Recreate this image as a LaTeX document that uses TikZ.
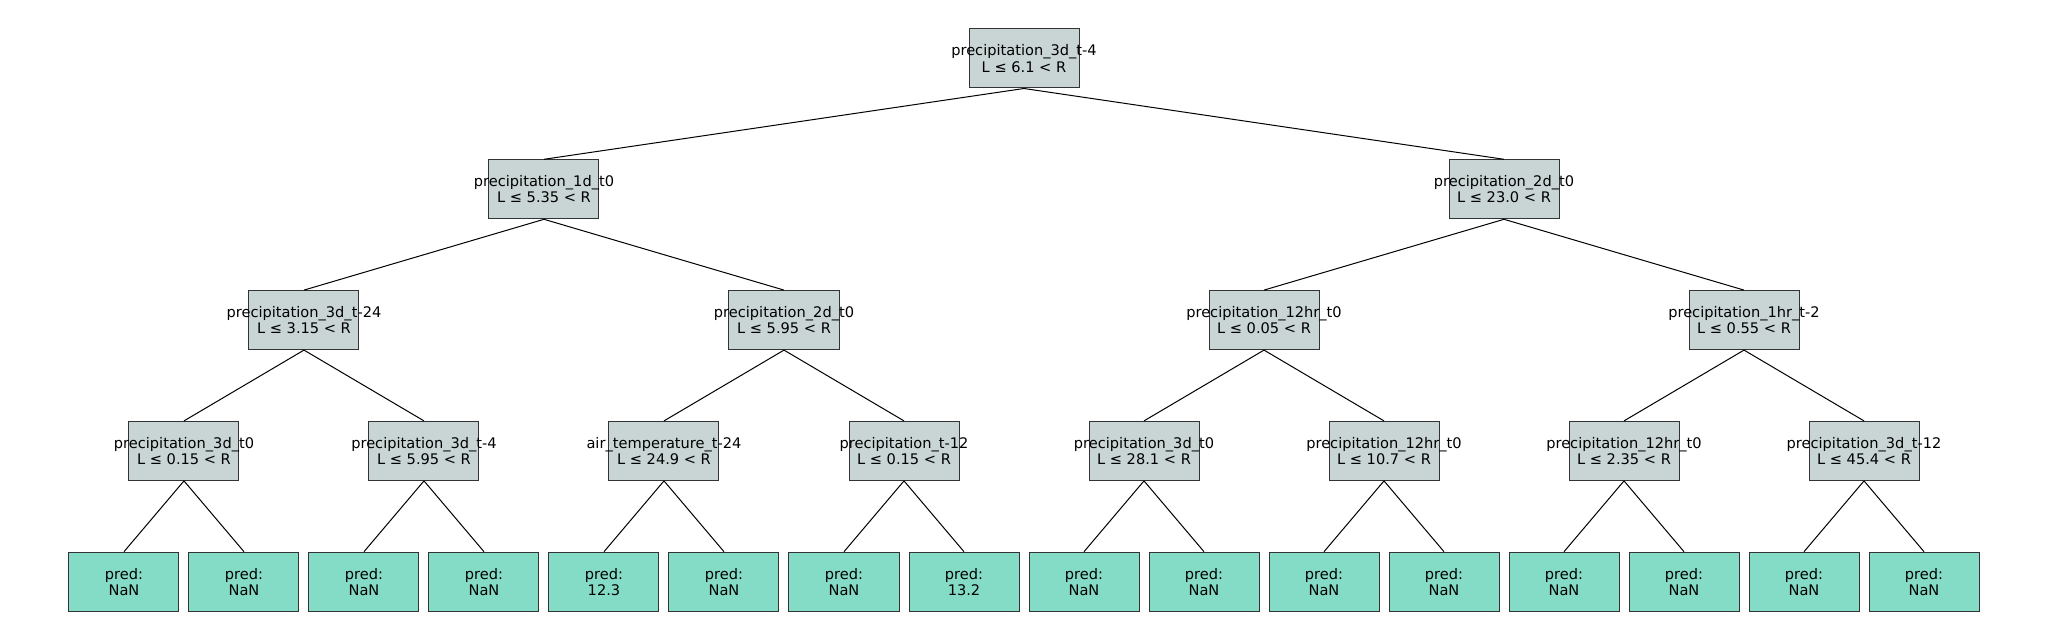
\documentclass[tikz,border=0pt]{standalone}
\usepackage{fontspec}
\setmainfont{DejaVu Sans}
\definecolor{splitfill}{RGB}{201,213,213}
\definecolor{leaffill}{RGB}{132,220,198}
\newcommand{\splitlabel}[2]{\makebox[0pt]{#1}\\\makebox[0pt]{L ≤ #2 < R}}
\begin{document}
\begin{tikzpicture}[
  level distance=65.4pt,
  level 1/.style={sibling distance=480pt},
  level 2/.style={sibling distance=240pt},
  level 3/.style={sibling distance=120pt},
  level 4/.style={sibling distance=60pt},
  edge from parent/.style={draw,line width=0.5pt},
  parent anchor=south, child anchor=north,
  grow=south,
  every node/.style={draw=black!80, line width=0.5pt, minimum width=55pt,
    minimum height=29.5pt, inner sep=0pt, align=center,
    font=\fontsize{7.3}{8.1}\selectfont},
  split/.style={fill=splitfill},
  leaf/.style={fill=leaffill}
]
\useasboundingbox (-512pt,29.25pt) rectangle (512pt,-290.75pt);

% Root split
\node[split] (t) {\splitlabel{precipitation\_3d\_t-4}{6.1}}
  child {node[split] (t0) {\splitlabel{precipitation\_1d\_t0}{5.35}}
    child {node[split] (t00) {\splitlabel{precipitation\_3d\_t-24}{3.15}}
      child {node[split] (t000) {\splitlabel{precipitation\_3d\_t0}{0.15}}
        child {node[leaf] (t0000) {pred:\\NaN}}
        child {node[leaf] (t0001) {pred:\\NaN}}}
      child {node[split] (t001) {\splitlabel{precipitation\_3d\_t-4}{5.95}}
        child {node[leaf] (t0010) {pred:\\NaN}}
        child {node[leaf] (t0011) {pred:\\NaN}}}}
    child {node[split] (t01) {\splitlabel{precipitation\_2d\_t0}{5.95}}
      child {node[split] (t010) {\splitlabel{air\_temperature\_t-24}{24.9}}
        child {node[leaf] (t0100) {pred:\\12.3}}
        child {node[leaf] (t0101) {pred:\\NaN}}}
      child {node[split] (t011) {\splitlabel{precipitation\_t-12}{0.15}}
        child {node[leaf] (t0110) {pred:\\NaN}}
        child {node[leaf] (t0111) {pred:\\13.2}}}}}
  child {node[split] (t1) {\splitlabel{precipitation\_2d\_t0}{23.0}}
    child {node[split] (t10) {\splitlabel{precipitation\_12hr\_t0}{0.05}}
      child {node[split] (t100) {\splitlabel{precipitation\_3d\_t0}{28.1}}
        child {node[leaf] (t1000) {pred:\\NaN}}
        child {node[leaf] (t1001) {pred:\\NaN}}}
      child {node[split] (t101) {\splitlabel{precipitation\_12hr\_t0}{10.7}}
        child {node[leaf] (t1010) {pred:\\NaN}}
        child {node[leaf] (t1011) {pred:\\NaN}}}}
    child {node[split] (t11) {\splitlabel{precipitation\_1hr\_t-2}{0.55}}
      child {node[split] (t110) {\splitlabel{precipitation\_12hr\_t0}{2.35}}
        child {node[leaf] (t1100) {pred:\\NaN}}
        child {node[leaf] (t1101) {pred:\\NaN}}}
      child {node[split] (t111) {\splitlabel{precipitation\_3d\_t-12}{45.4}}
        child {node[leaf] (t1110) {pred:\\NaN}}
        child {node[leaf] (t1111) {pred:\\NaN}}}}};

\end{tikzpicture}
\end{document}
